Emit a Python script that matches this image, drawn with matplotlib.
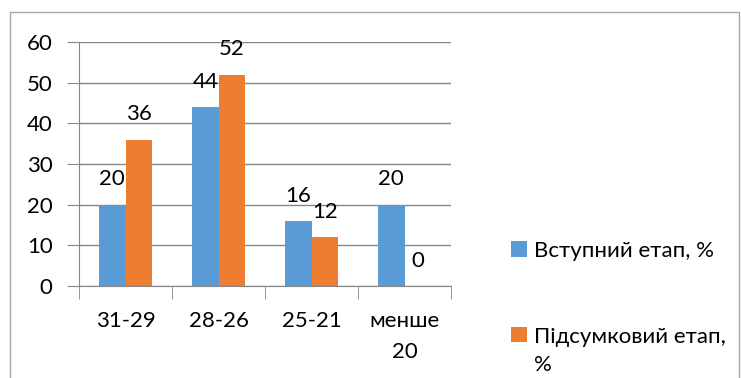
import matplotlib
matplotlib.use("Agg")
import matplotlib.pyplot as plt
import numpy as np
from matplotlib.patches import Patch, Rectangle
from matplotlib.legend_handler import HandlerPatch

categories = ["31-29", "28-26", "25-21", "менше\n20"]
series_names = ["Вступний етап, %", "Підсумковий етап,\n%"]
entry_values = [20, 44, 16, 20]
final_values = [36, 52, 12, 0]
colors = ["#5B9BD5", "#ED7D31"]

plt.rcParams['font.family'] = ['Lato', 'DejaVu Sans']
FS = 16

fig = plt.figure(figsize=(7.41, 3.78), dpi=100)
fig.patches.append(Rectangle((10/741, -0.1), (739-10)/741, 1.1 - 12/378,
                             transform=fig.transFigure, fill=False,
                             edgecolor="#A6A6A6", linewidth=1))
ax = fig.add_axes([79/741, 1-286/378, (451-79)/741, (286-42)/378])

x = np.arange(len(categories))
w = 0.285
b1 = ax.bar(x - w/2, entry_values, w, color=colors[0], label=series_names[0])
b2 = ax.bar(x + w/2, final_values, w, color=colors[1], label=series_names[1])

for bars, vals in ((b1, entry_values), (b2, final_values)):
    for r, v in zip(bars, vals):
        ax.annotate(str(v), (r.get_x() + r.get_width()/2, r.get_height()),
                    xytext=(0, 11), textcoords="offset points",
                    ha="center", va="bottom", fontsize=FS, color="black")

ax.set_xlim(-0.5, len(categories) - 0.5)
ax.set_ylim(0, 60)
ax.set_yticks(np.arange(0, 61, 10))
ax.yaxis.grid(True, color="#868686", linewidth=1)
ax.set_axisbelow(True)
for s in ("top", "right"):
    ax.spines[s].set_visible(False)
ax.spines["left"].set_color("#868686")
ax.spines["bottom"].set_color("#868686")
ax.set_xticks(x)
ax.set_xticklabels(categories, fontsize=FS, linespacing=1.7)
ax.tick_params(axis="x", length=0, pad=18)
ax.set_xticks(np.arange(-0.5, len(categories)), minor=True)
ax.tick_params(axis="x", which="minor", length=9, color="#868686", direction="out")
ax.tick_params(axis="y", length=9, color="#868686", labelsize=FS, pad=10)


def make_patch(shift):
    def f(legend, orig_handle, xdescent, ydescent, width, height, fontsize):
        return Rectangle((-xdescent, -ydescent + shift), width, height)
    return f

handles = [Patch(facecolor=c) for c in colors]
leg = fig.legend(handles, series_names, loc="upper left",
                 bbox_to_anchor=(491/741, 1-221/378), frameon=False, fontsize=FS,
                 handlelength=0.7, handleheight=0.7, handletextpad=0.35,
                 labelspacing=2.95,
                 handler_map={handles[0]: HandlerPatch(patch_func=make_patch(0)),
                              handles[1]: HandlerPatch(patch_func=make_patch(12))})
for t in leg.get_texts():
    t.set_linespacing(1.55)

fig.savefig("out.png", dpi=100)
